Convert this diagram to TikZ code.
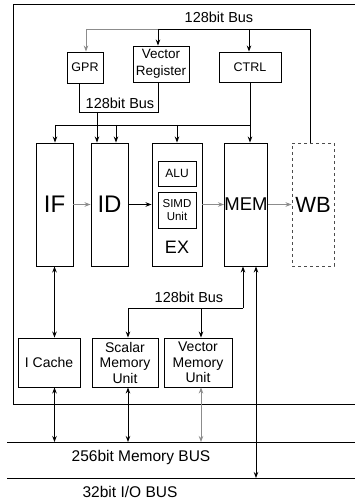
\documentclass[tikz,border=0pt]{standalone}
\usepackage{fontspec}
\setmainfont{Liberation Sans}
\usetikzlibrary{arrows.meta}
\begin{document}
\begin{tikzpicture}[x=1pt,y=-1pt,line width=0.9pt,
  >={Stealth[length=6pt,width=4.5pt]},
  box/.style={draw,inner sep=0pt,align=center},
  fsz/.style={font=\fontsize{#1}{#1}\selectfont},
  lbl/.style={inner sep=0pt,font=\fontsize{14.5}{16}\selectfont},
  gline/.style={draw=black!45}]
\useasboundingbox (0,0) rectangle (355,502);
\begin{scope}
\clip (0,0) rectangle (355,502);
% outer chip boundary
\node[box,anchor=north west,minimum width=370pt,minimum height=400pt] (chip) at (13,4) {};
% register boxes
\node[box,minimum width=36pt,minimum height=31pt,font=\fontsize{12.5}{14}\selectfont] (gpr) at (85,67.5) {GPR};
\node[box,minimum width=56pt,minimum height=36pt,font=\fontsize{13.5}{16.5}\selectfont] (vreg) at (161,64) {Vector\\Register};
\node[box,minimum width=62pt,minimum height=30pt,font=\fontsize{12.5}{14}\selectfont] (ctrl) at (250,67) {CTRL};
% pipeline stages
\node[box,minimum width=37pt,minimum height=123pt,fsz=24] (if) at (54.5,204.5) {IF};
\node[box,minimum width=37pt,minimum height=123pt,fsz=24] (id) at (109.5,204.5) {ID};
\node[box,minimum width=50pt,minimum height=123pt] (ex) at (177,204.5) {};
\node[box,minimum width=42pt,minimum height=123pt,fsz=18.5] (mem) at (246,204.5) {MEM};
\node[box,dashed,draw=black!70,minimum width=42pt,minimum height=123pt,fsz=22] (wb) at (313,204.5) {WB};
\node[box,minimum width=38pt,minimum height=25pt,fsz=12] (alu) at (177,173.5) {ALU};
\node[box,minimum width=38pt,minimum height=36pt,font=\fontsize{11.5}{13.5}\selectfont] (simd) at (177,210) {SIMD\\Unit};
\node[inner sep=0pt,fsz=18] (exl) at (177,247) {EX};
% memory units
\node[box,minimum width=62pt,minimum height=49pt,font=\fontsize{14}{16}\selectfont] (icache) at (49,362.5) {I Cache};
\node[box,minimum width=66pt,minimum height=49pt,font=\fontsize{14}{15.5}\selectfont] (smu) at (125,362.5) {Scalar\\Memory\\Unit};
\node[box,minimum width=68pt,minimum height=49pt,font=\fontsize{14}{15.5}\selectfont] (vmu) at (198,362.5) {Vector\\Memory\\Unit};
% bus labels
\node[lbl] (tbl) at (219,17) {128bit Bus};
\node[lbl] (mbl) at (120,103) {128bit Bus};
\node[lbl] (lbl3) at (189,297) {128bit Bus};
\node[lbl,font=\fontsize{15.5}{17}\selectfont] (memlbl) at (141,457) {256bit Memory BUS};
\node[lbl,font=\fontsize{15.5}{17}\selectfont] (iolbl) at (130,492) {32bit I/O BUS};
% coordinates
\coordinate (t1) at (86,29);
\coordinate (t2) at (158,29);
\coordinate (t3) at (249,29);
\coordinate (t4) at (310,29);
\coordinate (g1) at (79,112);
\coordinate (g2) at (97,112);
\coordinate (g3) at (158,112);
\coordinate (h1) at (55,125);
\coordinate (h2) at (97,125);
\coordinate (h3) at (116,125);
\coordinate (h4) at (177,125);
\coordinate (h5) at (250,125);
\coordinate (b1) at (128,308);
\coordinate (b2) at (201,308);
\coordinate (b3) at (243,308);
\coordinate (mbL) at (7,442);
\coordinate (mbR) at (360,442);
\coordinate (ioL) at (7,478);
\coordinate (ioR) at (360,478);
% top bus
\draw (wb.north -| t4) -- (t4) -- (t2);
\draw[gline] (t2) -- (t1);
\draw[->,gline] (t1) -- (gpr.north -| t1);
\draw[->] (t2) -- (vreg.north -| t2);
\draw[->] (t3) -- (ctrl.north -| t3);
% register bus
\draw (gpr.south -| g1) -- (g1) -- (g3) -- (vreg.south -| g3);
\draw[->] (g2) -- (id.north -| g2);
\draw (h1) -- (h5);
\draw[->] (h1) -- (if.north -| h1);
\draw[->] (h3) -- (id.north -| h3);
\draw[->] (h4) -- (ex.north -| h4);
\draw[->] (ctrl.south -| h5) -- (mem.north -| h5);
% pipeline flow
\draw[->,gline] (if.east) -- (id.west);
\draw[->] (id.east) -- (ex.west);
\draw[->,gline] (ex.east) -- (mem.west);
\draw[->,gline] (mem.east) -- (wb.west);
% lower connections
\draw[<->] (if.south) -- (icache.north -| if.south);
\draw[->] (b3) -- (mem.south -| b3);
\draw (b1) -- (b3);
\draw[->] (b1) -- (smu.north -| b1);
\draw[->] (b2) -- (vmu.north -| b2);
\draw[<->] (mem.south -| 256,0) -- (ioL -| 256,0);
% buses
\draw (mbL) -- (mbR);
\draw (ioL) -- (ioR);
\draw[<->] (icache.south -| if.south) -- (mbL -| if.south);
\draw[<->] (smu.south -| b1) -- (mbL -| b1);
\draw[<->,gline] (vmu.south -| b2) -- (mbL -| b2);
\end{scope}
\end{tikzpicture}
\end{document}
